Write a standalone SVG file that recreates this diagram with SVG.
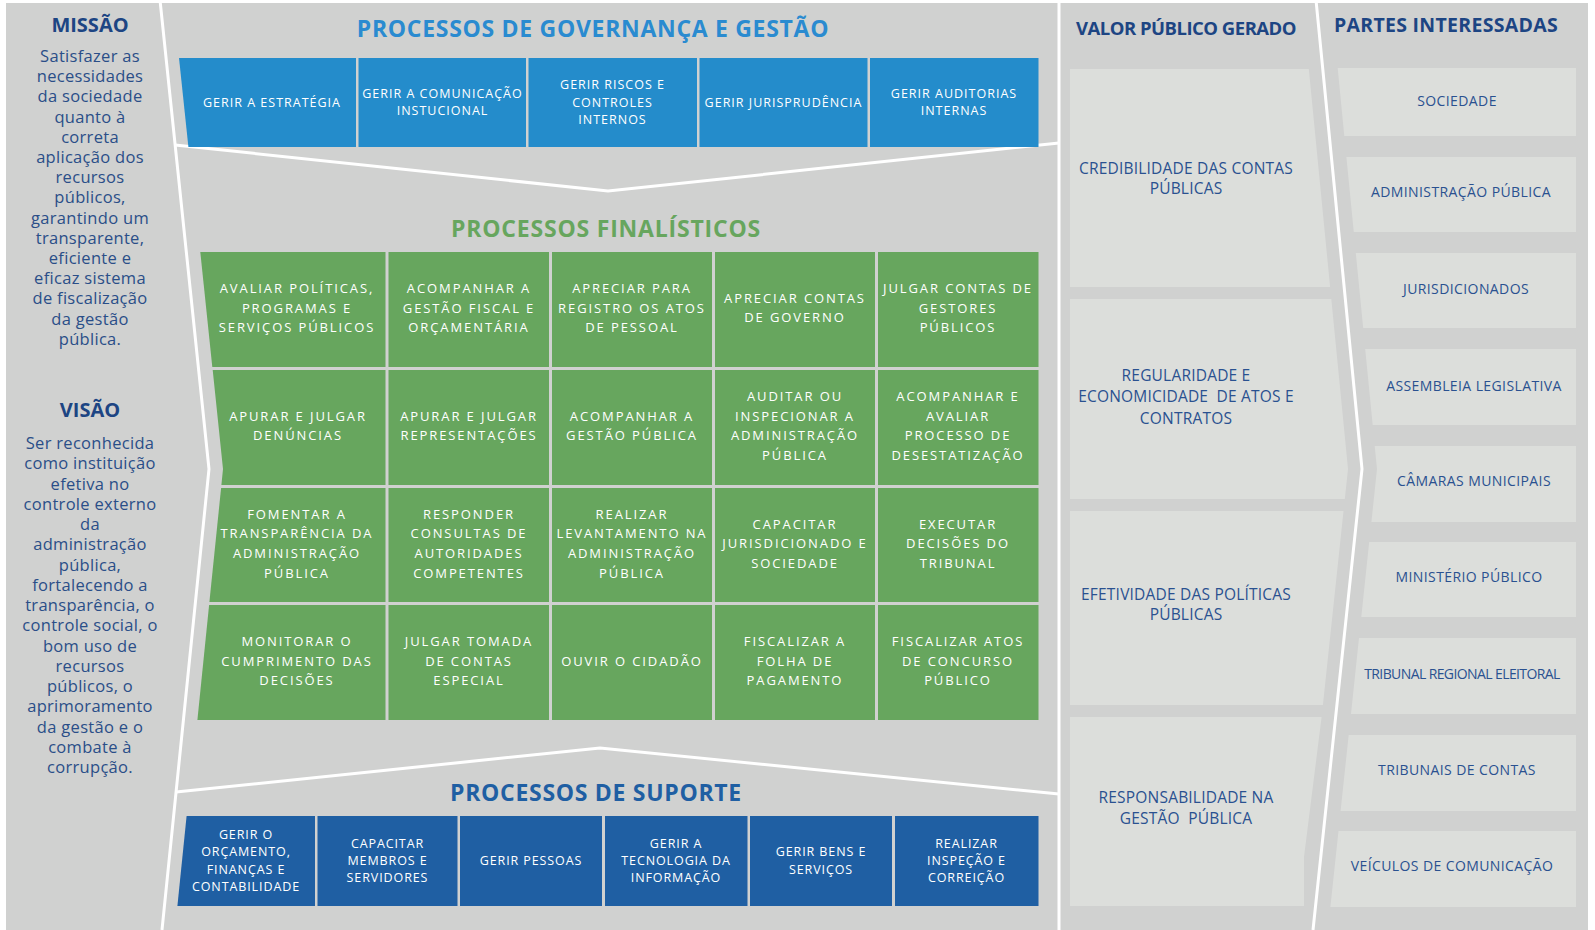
<svg xmlns="http://www.w3.org/2000/svg" width="1595" height="930" viewBox="0 0 1595 930">
  <style>
    text { font-family: "Open Sans", "Noto Sans", sans-serif; text-anchor: middle; }
    .panel { fill: #d0d1d0; }
    .div { fill: none; stroke: #ffffff; stroke-width: 3; stroke-linejoin: miter; }
    .head { font-weight: 700; fill: #1d4583; font-size: 20px; }
    .body { fill: #2a4e88; font-size: 16.5px; letter-spacing: 0.3px; }
    .sec { font-weight: 700; font-size: 23px; letter-spacing: 0.7px; }
    .gov { fill: #248ccb; }
    .fin { fill: #67a65e; }
    .sup { fill: #1f5fa3; }
    .light { fill: #dcdedb; }
    .wt { fill: #ffffff; font-size: 12.5px; letter-spacing: 1px; }
    .gt { fill: #ffffff; font-size: 13px; letter-spacing: 1.9px; }
    .st { fill: #ffffff; font-size: 12.5px; letter-spacing: 0.9px; }
    .vt { fill: #2a5190; font-size: 15.5px; letter-spacing: 0.2px; }
    .pt { fill: #2a5190; font-size: 14px; letter-spacing: 0.4px; }
  </style>

  <!-- base panel -->
  <rect x="0" y="0" width="1595" height="930" fill="#ffffff"/>
  <rect class="panel" x="6" y="3" width="1582" height="927"/>

  <!-- mission / vision column -->
  <g id="missao">
    <text class="head" x="90" y="32">MISSÃO</text>
    <text class="body" x="90" y="62"><tspan x="90">Satisfazer as</tspan><tspan x="90" dy="20.2">necessidades</tspan><tspan x="90" dy="20.2">da sociedade</tspan><tspan x="90" dy="20.2">quanto à</tspan><tspan x="90" dy="20.2">correta</tspan><tspan x="90" dy="20.2">aplicação dos</tspan><tspan x="90" dy="20.2">recursos</tspan><tspan x="90" dy="20.2">públicos,</tspan><tspan x="90" dy="20.2">garantindo um</tspan><tspan x="90" dy="20.2">transparente,</tspan><tspan x="90" dy="20.2">eficiente e</tspan><tspan x="90" dy="20.2">eficaz sistema</tspan><tspan x="90" dy="20.2">de fiscalização</tspan><tspan x="90" dy="20.2">da gestão</tspan><tspan x="90" dy="20.2">pública.</tspan></text>
  </g>
  <g id="visao">
    <text class="head" x="90" y="417">VISÃO</text>
    <text class="body" x="90" y="449"><tspan x="90">Ser reconhecida</tspan><tspan x="90" dy="20.25">como instituição</tspan><tspan x="90" dy="20.25">efetiva no</tspan><tspan x="90" dy="20.25">controle externo</tspan><tspan x="90" dy="20.25">da</tspan><tspan x="90" dy="20.25">administração</tspan><tspan x="90" dy="20.25">pública,</tspan><tspan x="90" dy="20.25">fortalecendo a</tspan><tspan x="90" dy="20.25">transparência, o</tspan><tspan x="90" dy="20.25">controle social, o</tspan><tspan x="90" dy="20.25">bom uso de</tspan><tspan x="90" dy="20.25">recursos</tspan><tspan x="90" dy="20.25">públicos, o</tspan><tspan x="90" dy="20.25">aprimoramento</tspan><tspan x="90" dy="20.25">da gestão e o</tspan><tspan x="90" dy="20.25">combate à</tspan><tspan x="90" dy="20.25">corrupção.</tspan></text>
  </g>

  <!-- white dividing lines between the bands -->
  <g id="connectors">
    <polyline class="div" points="160,0 209,469 162,930"/>
    <polyline class="div" points="175,145 608,191 1059,143"/>
    <polyline class="div" points="176,792 600,748 1059,794"/>
    <line class="div" x1="1059" y1="0" x2="1059" y2="930"/>
    <polyline class="div" points="1316,0 1362,469 1313,930"/>
  </g>

  <!-- governance processes -->
  <g id="governanca">
    <text class="sec" x="593" y="36.7" fill="#2a8bd0">PROCESSOS DE GOVERNANÇA E GESTÃO</text>
    <g id="gov-1">
      <polygon class="gov" points="179,58 356,58 356,147 188.4,147"/>
      <text class="wt" x="272" y="106.5">GERIR A ESTRATÉGIA</text>
    </g>
    <g id="gov-2">
      <rect class="gov" x="358.5" y="58" width="167.5" height="89"/>
      <text class="wt" x="442.5" y="97.9"><tspan x="442.5">GERIR A COMUNICAÇÃO</tspan><tspan x="442.5" dy="17.3">INSTUCIONAL</tspan></text>
    </g>
    <g id="gov-3">
      <rect class="gov" x="528.5" y="58" width="168.5" height="89"/>
      <text class="wt" x="612.5" y="89.2"><tspan x="612.5">GERIR RISCOS E</tspan><tspan x="612.5" dy="17.3">CONTROLES</tspan><tspan x="612.5" dy="17.3">INTERNOS</tspan></text>
    </g>
    <g id="gov-4">
      <rect class="gov" x="699.5" y="58" width="168" height="89"/>
      <text class="wt" x="783.5" y="106.5">GERIR JURISPRUDÊNCIA</text>
    </g>
    <g id="gov-5">
      <rect class="gov" x="870" y="58" width="168.5" height="89"/>
      <text class="wt" x="954" y="97.9"><tspan x="954">GERIR AUDITORIAS</tspan><tspan x="954" dy="17.3">INTERNAS</tspan></text>
    </g>
  </g>

  <!-- core processes -->
  <g id="finalisticos">
    <text class="sec" x="606" y="237" fill="#67a65e" style="letter-spacing:0.8px">PROCESSOS FINALÍSTICOS</text>

    <!-- row 1 -->
    <g id="fin-1-1">
      <polygon class="fin" points="200.3,252 385.5,252 385.5,367 212.3,367"/>
      <text class="gt" x="297" y="293"><tspan x="297">AVALIAR POLÍTICAS,</tspan><tspan x="297" dy="19.6">PROGRAMAS E</tspan><tspan x="297" dy="19.6">SERVIÇOS PÚBLICOS</tspan></text>
    </g>
    <g id="fin-1-2">
      <rect class="fin" x="388.5" y="252" width="160.5" height="115"/>
      <text class="gt" x="469" y="293"><tspan x="469">ACOMPANHAR A</tspan><tspan x="469" dy="19.6">GESTÃO FISCAL E</tspan><tspan x="469" dy="19.6">ORÇAMENTÁRIA</tspan></text>
    </g>
    <g id="fin-1-3">
      <rect class="fin" x="552" y="252" width="160" height="115"/>
      <text class="gt" x="632" y="293"><tspan x="632">APRECIAR PARA</tspan><tspan x="632" dy="19.6">REGISTRO OS ATOS</tspan><tspan x="632" dy="19.6">DE PESSOAL</tspan></text>
    </g>
    <g id="fin-1-4">
      <rect class="fin" x="715" y="252" width="160" height="115"/>
      <text class="gt" x="795" y="302.8"><tspan x="795">APRECIAR CONTAS</tspan><tspan x="795" dy="19.6">DE GOVERNO</tspan></text>
    </g>
    <g id="fin-1-5">
      <rect class="fin" x="878" y="252" width="160.5" height="115"/>
      <text class="gt" x="958" y="293"><tspan x="958">JULGAR CONTAS DE</tspan><tspan x="958" dy="19.6">GESTORES</tspan><tspan x="958" dy="19.6">PÚBLICOS</tspan></text>
    </g>

    <!-- row 2 -->
    <g id="fin-2-1">
      <polygon class="fin" points="212.7,370 385.5,370 385.5,485 221.4,485 223,469"/>
      <text class="gt" x="298" y="420.8"><tspan x="298">APURAR E JULGAR</tspan><tspan x="298" dy="19.6">DENÚNCIAS</tspan></text>
    </g>
    <g id="fin-2-2">
      <rect class="fin" x="388.5" y="370" width="160.5" height="115"/>
      <text class="gt" x="469" y="420.8"><tspan x="469">APURAR E JULGAR</tspan><tspan x="469" dy="19.6">REPRESENTAÇÕES</tspan></text>
    </g>
    <g id="fin-2-3">
      <rect class="fin" x="552" y="370" width="160" height="115"/>
      <text class="gt" x="632" y="420.8"><tspan x="632">ACOMPANHAR A</tspan><tspan x="632" dy="19.6">GESTÃO PÚBLICA</tspan></text>
    </g>
    <g id="fin-2-4">
      <rect class="fin" x="715" y="370" width="160" height="115"/>
      <text class="gt" x="795" y="401.2"><tspan x="795">AUDITAR OU</tspan><tspan x="795" dy="19.6">INSPECIONAR A</tspan><tspan x="795" dy="19.6">ADMINISTRAÇÃO</tspan><tspan x="795" dy="19.6">PÚBLICA</tspan></text>
    </g>
    <g id="fin-2-5">
      <rect class="fin" x="878" y="370" width="160.5" height="115"/>
      <text class="gt" x="958" y="401.2"><tspan x="958">ACOMPANHAR E</tspan><tspan x="958" dy="19.6">AVALIAR</tspan><tspan x="958" dy="19.6">PROCESSO DE</tspan><tspan x="958" dy="19.6">DESESTATIZAÇÃO</tspan></text>
    </g>

    <!-- row 3 -->
    <g id="fin-3-1">
      <polygon class="fin" points="221.1,488 385.5,488 385.5,602 209.4,602"/>
      <text class="gt" x="297" y="518.7"><tspan x="297">FOMENTAR A</tspan><tspan x="297" dy="19.6">TRANSPARÊNCIA DA</tspan><tspan x="297" dy="19.6">ADMINISTRAÇÃO</tspan><tspan x="297" dy="19.6">PÚBLICA</tspan></text>
    </g>
    <g id="fin-3-2">
      <rect class="fin" x="388.5" y="488" width="160.5" height="114"/>
      <text class="gt" x="469" y="518.7"><tspan x="469">RESPONDER</tspan><tspan x="469" dy="19.6">CONSULTAS DE</tspan><tspan x="469" dy="19.6">AUTORIDADES</tspan><tspan x="469" dy="19.6">COMPETENTES</tspan></text>
    </g>
    <g id="fin-3-3">
      <rect class="fin" x="552" y="488" width="160" height="114"/>
      <text class="gt" x="632" y="518.7"><tspan x="632">REALIZAR</tspan><tspan x="632" dy="19.6">LEVANTAMENTO NA</tspan><tspan x="632" dy="19.6">ADMINISTRAÇÃO</tspan><tspan x="632" dy="19.6">PÚBLICA</tspan></text>
    </g>
    <g id="fin-3-4">
      <rect class="fin" x="715" y="488" width="160" height="114"/>
      <text class="gt" x="795" y="528.5"><tspan x="795">CAPACITAR</tspan><tspan x="795" dy="19.6">JURISDICIONADO E</tspan><tspan x="795" dy="19.6">SOCIEDADE</tspan></text>
    </g>
    <g id="fin-3-5">
      <rect class="fin" x="878" y="488" width="160.5" height="114"/>
      <text class="gt" x="958" y="528.5"><tspan x="958">EXECUTAR</tspan><tspan x="958" dy="19.6">DECISÕES DO</tspan><tspan x="958" dy="19.6">TRIBUNAL</tspan></text>
    </g>

    <!-- row 4 -->
    <g id="fin-4-1">
      <polygon class="fin" points="209.1,605 385.5,605 385.5,720 197.4,720"/>
      <text class="gt" x="297" y="646"><tspan x="297">MONITORAR O</tspan><tspan x="297" dy="19.6">CUMPRIMENTO DAS</tspan><tspan x="297" dy="19.6">DECISÕES</tspan></text>
    </g>
    <g id="fin-4-2">
      <rect class="fin" x="388.5" y="605" width="160.5" height="115"/>
      <text class="gt" x="469" y="646"><tspan x="469">JULGAR TOMADA</tspan><tspan x="469" dy="19.6">DE CONTAS</tspan><tspan x="469" dy="19.6">ESPECIAL</tspan></text>
    </g>
    <g id="fin-4-3">
      <rect class="fin" x="552" y="605" width="160" height="115"/>
      <text class="gt" x="632" y="665.6">OUVIR O CIDADÃO</text>
    </g>
    <g id="fin-4-4">
      <rect class="fin" x="715" y="605" width="160" height="115"/>
      <text class="gt" x="795" y="646"><tspan x="795">FISCALIZAR A</tspan><tspan x="795" dy="19.6">FOLHA DE</tspan><tspan x="795" dy="19.6">PAGAMENTO</tspan></text>
    </g>
    <g id="fin-4-5">
      <rect class="fin" x="878" y="605" width="160.5" height="115"/>
      <text class="gt" x="958" y="646"><tspan x="958">FISCALIZAR ATOS</tspan><tspan x="958" dy="19.6">DE CONCURSO</tspan><tspan x="958" dy="19.6">PÚBLICO</tspan></text>
    </g>
  </g>

  <!-- support processes -->
  <g id="suporte">
    <text class="sec" x="596" y="800.5" fill="#1f5fa3">PROCESSOS DE SUPORTE</text>
    <g id="sup-1">
      <polygon class="sup" points="186.6,816 315,816 315,906 177.4,906"/>
      <text class="st" x="246" y="838.9"><tspan x="246">GERIR O</tspan><tspan x="246" dy="17.4">ORÇAMENTO,</tspan><tspan x="246" dy="17.4">FINANÇAS E</tspan><tspan x="246" dy="17.4">CONTABILIDADE</tspan></text>
    </g>
    <g id="sup-2">
      <rect class="sup" x="317.5" y="816" width="140" height="90"/>
      <text class="st" x="387.5" y="847.6"><tspan x="387.5">CAPACITAR</tspan><tspan x="387.5" dy="17.4">MEMBROS E</tspan><tspan x="387.5" dy="17.4">SERVIDORES</tspan></text>
    </g>
    <g id="sup-3">
      <rect class="sup" x="460" y="816" width="142" height="90"/>
      <text class="st" x="531" y="865">GERIR PESSOAS</text>
    </g>
    <g id="sup-4">
      <rect class="sup" x="605" y="816" width="142.5" height="90"/>
      <text class="st" x="676" y="847.6"><tspan x="676">GERIR A</tspan><tspan x="676" dy="17.4">TECNOLOGIA DA</tspan><tspan x="676" dy="17.4">INFORMAÇÃO</tspan></text>
    </g>
    <g id="sup-5">
      <rect class="sup" x="750" y="816" width="142" height="90"/>
      <text class="st" x="821" y="856.3"><tspan x="821">GERIR BENS E</tspan><tspan x="821" dy="17.4">SERVIÇOS</tspan></text>
    </g>
    <g id="sup-6">
      <rect class="sup" x="895" y="816" width="143.5" height="90"/>
      <text class="st" x="966.5" y="847.6"><tspan x="966.5">REALIZAR</tspan><tspan x="966.5" dy="17.4">INSPEÇÃO E</tspan><tspan x="966.5" dy="17.4">CORREIÇÃO</tspan></text>
    </g>
  </g>

  <!-- public value column -->
  <g id="valor-publico">
    <text class="head" x="1186" y="35" style="font-size:18.5px;letter-spacing:-0.5px">VALOR PÚBLICO GERADO</text>
    <g id="valor-1">
      <polygon class="light" points="1070,69 1308.8,69 1330.1,287 1070,287"/>
      <text class="vt" x="1186" y="173.5"><tspan x="1186">CREDIBILIDADE DAS CONTAS</tspan><tspan x="1186" dy="20.5">PÚBLICAS</tspan></text>
    </g>
    <g id="valor-2">
      <polygon class="light" points="1070,299 1331.3,299 1348,469 1344.8,499 1070,499"/>
      <text class="vt" x="1186" y="380.5" xml:space="preserve"><tspan x="1186">REGULARIDADE E</tspan><tspan x="1186" dy="21.5">ECONOMICIDADE  DE ATOS E</tspan><tspan x="1186" dy="21.5">CONTRATOS</tspan></text>
    </g>
    <g id="valor-3">
      <polygon class="light" points="1070,511 1343.5,511 1322.9,705 1070,705"/>
      <text class="vt" x="1186" y="599.5"><tspan x="1186">EFETIVIDADE DAS POLÍTICAS</tspan><tspan x="1186" dy="20.5">PÚBLICAS</tspan></text>
    </g>
    <g id="valor-4">
      <polygon class="light" points="1070,717 1321.6,717 1304,857 1304,906 1070,906"/>
      <text class="vt" x="1186" y="803" xml:space="preserve"><tspan x="1186">RESPONSABILIDADE NA</tspan><tspan x="1186" dy="20.5">GESTÃO  PÚBLICA</tspan></text>
    </g>
  </g>

  <!-- stakeholders column -->
  <g id="partes-interessadas">
    <text class="head" x="1446" y="32.3" style="font-size:19.5px;letter-spacing:0.3px">PARTES INTERESSADAS</text>
    <g id="parte-1">
      <polygon class="light" points="1337.7,68 1576,68 1576,136 1344.3,136"/>
      <text class="pt" x="1457" y="105.7">SOCIEDADE</text>
    </g>
    <g id="parte-2">
      <polygon class="light" points="1346.4,157 1576,157 1576,232 1353.8,232"/>
      <text class="pt" x="1461" y="197.3">ADMINISTRAÇÃO PÚBLICA</text>
    </g>
    <g id="parte-3">
      <polygon class="light" points="1355.8,253 1576,253 1576,328 1363.2,328"/>
      <text class="pt" x="1466" y="293.9">JURISDICIONADOS</text>
    </g>
    <g id="parte-4">
      <polygon class="light" points="1365.2,349 1576,349 1576,425 1372.7,425"/>
      <text class="pt" x="1474" y="390.5">ASSEMBLEIA LEGISLATIVA</text>
    </g>
    <g id="parte-5">
      <polygon class="light" points="1374.7,446 1576,446 1576,522 1371.4,522 1377,469"/>
      <text class="pt" x="1474" y="486.1">CÂMARAS MUNICIPAIS</text>
    </g>
    <g id="parte-6">
      <polygon class="light" points="1369.2,542 1576,542 1576,617 1361.3,617"/>
      <text class="pt" x="1469" y="581.7">MINISTÉRIO PÚBLICO</text>
    </g>
    <g id="parte-7">
      <polygon class="light" points="1359,638 1576,638 1576,714 1351,714"/>
      <text class="pt" x="1462" y="679.4" style="letter-spacing:-0.6px">TRIBUNAL REGIONAL ELEITORAL</text>
    </g>
    <g id="parte-8">
      <polygon class="light" points="1348.7,735 1576,735 1576,811 1340.6,811"/>
      <text class="pt" x="1457" y="775">TRIBUNAIS DE CONTAS</text>
    </g>
    <g id="parte-9">
      <polygon class="light" points="1338.5,831 1576,831 1576,907 1330.4,907"/>
      <text class="pt" x="1452" y="870.6">VEÍCULOS DE COMUNICAÇÃO</text>
    </g>
  </g>
</svg>
